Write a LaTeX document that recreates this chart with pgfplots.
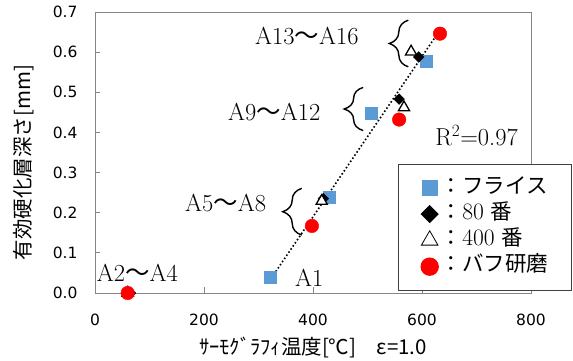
\documentclass[border=0pt]{standalone}
\usepackage{fontspec}
\usepackage{pgfplots}
\pgfplotsset{compat=1.18}
\usetikzlibrary{decorations.pathreplacing}
\newfontfamily\cjk{Noto Sans CJK JP}
\newfontfamily\dejavu{DejaVu Sans}
\definecolor{fblue}{HTML}{5B9BD5}
\definecolor{axgray}{HTML}{868686}
\newcommand\tickfont{\dejavu\fontsize{15.5bp}{18bp}\selectfont}
\newcommand\labfont{\cjk\fontsize{20.5bp}{24bp}\selectfont}
\newcommand\anfont{\fontsize{24.5bp}{28bp}\selectfont}
\newcommand\lgfont{\fontsize{21.5bp}{26bp}\selectfont}
\newcommand\lgdig[1]{{\fontsize{23.5bp}{26bp}\selectfont #1}}
\begin{document}
\begin{tikzpicture}
\begin{axis}[
  name=ax,
  scale only axis, width=436bp, height=281bp,
  xmin=0, xmax=800, ymin=0, ymax=0.7,
  xtick={0,200,400,600,800},
  ytick={0,0.1,0.2,0.3,0.4,0.5,0.6,0.7},
  tick pos=left, tick align=inside,
  major tick length=5.5bp,
  tick style={axgray, line width=0.8bp},
  axis line style={axgray, line width=0.8bp},
  clip=false,
  /pgf/number format/assume math mode=true,
  tick label style={font=\tickfont, black},
  yticklabel style={xshift=-14bp, /pgf/number format/.cd, fixed, fixed zerofill, precision=1},
  xticklabel style={yshift=-17bp},
  xlabel={ｻｰﾓｸﾞﾗﾌｨ温度[℃]　ε=1.0},
  xlabel style={font=\labfont, at={(axis description cs:0.5,-0.195)}, anchor=center},
  ylabel={有効硬化層深さ[mm]},
  ylabel style={font=\labfont, at={(axis description cs:-0.163,0.464)}, anchor=center},
  legend style={
    at={(axis description cs:0.695,0.459)}, anchor=north west,
    draw=black!75, line width=1bp, fill=white, outer sep=0pt,
    inner xsep=23bp, inner ysep=14bp,
    row sep=6.8bp, column sep=2.5bp,
    font=\lgfont,
    nodes={inner sep=0pt, text height=15bp, text depth=4.5bp},
  },
  legend cell align=left,
]
% フライス
\addplot[only marks, mark=square*, mark size=6pt, mark options={fill=fblue, draw=fblue}, forget plot]
  coordinates {(321,0.039) (430,0.238) (506,0.448) (607,0.578)};
% 80番
\addplot[only marks, mark=square*, mark size=3.8pt, mark options={rotate=45, fill=black, draw=black}, forget plot]
  coordinates {(65,0) (419,0.235) (558,0.483) (594,0.588)};
% 400番
\addplot[only marks, mark=triangle*, mark size=6.5pt, mark options={fill=white, draw=black, line width=1.3pt}, forget plot]
  coordinates {(60,0) (416,0.229) (567,0.462) (580,0.601)};
% バフ研磨
\addplot[only marks, mark=*, mark size=6.8pt, mark options={fill=red, draw=red}, forget plot]
  coordinates {(60,0) (398,0.167) (558,0.432) (633,0.646)};
% trend line
\addplot[black, line width=1.6pt, dash pattern=on 1.6pt off 2.2pt, forget plot]
  coordinates {(320,0.030) (627,0.643)};

\addlegendimage{only marks, mark=square*, mark size=7.5pt, mark options={fill=fblue, draw=fblue}}
\addlegendentry{{\cjk ：フライス}}
\addlegendimage{only marks, mark=square*, mark size=5.9pt, mark options={rotate=45, fill=black, draw=black}}
\addlegendentry{{\cjk ：}\lgdig{80} {\cjk 番}}
\addlegendimage{only marks, mark=triangle, mark size=9.6pt, mark options={draw=black, line width=0.8pt}}
\addlegendentry{{\cjk ：}\lgdig{400} {\cjk 番}}
\addlegendimage{only marks, mark=*, mark size=8.7pt, mark options={fill=red, draw=red}}
\addlegendentry{{\cjk ：バフ研磨}}

% annotations
\node[anchor=base west, inner sep=0, font=\anfont] at (axis cs:293.6,0.619) {A13{\cjk ～}A16};
\node[anchor=base west, inner sep=0, font=\anfont] at (axis cs:244,0.4307) {A9{\cjk ～}A12};
\node[anchor=base west, inner sep=0, font=\anfont] at (axis cs:165,0.2024) {A5{\cjk ～}A8};
\node[anchor=base west, inner sep=0, font=\anfont] at (axis cs:3.1,0.028) {A2{\cjk ～}A4};
\node[anchor=base west, inner sep=0, font=\anfont] at (axis cs:367,0.015) {A1};
\node[anchor=base west, inner sep=0, font=\anfont] at (axis cs:624,0.3684) {R$^2$=0.97};
\draw[decorate, decoration={brace, amplitude=19bp}, line width=1.4bp] (axis cs:574.9,0.5634) -- (axis cs:574.9,0.6796);
\draw[decorate, decoration={brace, amplitude=19bp}, line width=1.4bp] (axis cs:492,0.4047) -- (axis cs:492,0.512);
\draw[decorate, decoration={brace, amplitude=19bp}, line width=1.4bp] (axis cs:379.3,0.1444) -- (axis cs:379.3,0.2606);
\end{axis}
\pgfresetboundingbox
\useasboundingbox ([xshift=-95bp,yshift=-68bp]ax.south west) rectangle ([xshift=42bp,yshift=12bp]ax.north east);
\end{tikzpicture}
\end{document}
